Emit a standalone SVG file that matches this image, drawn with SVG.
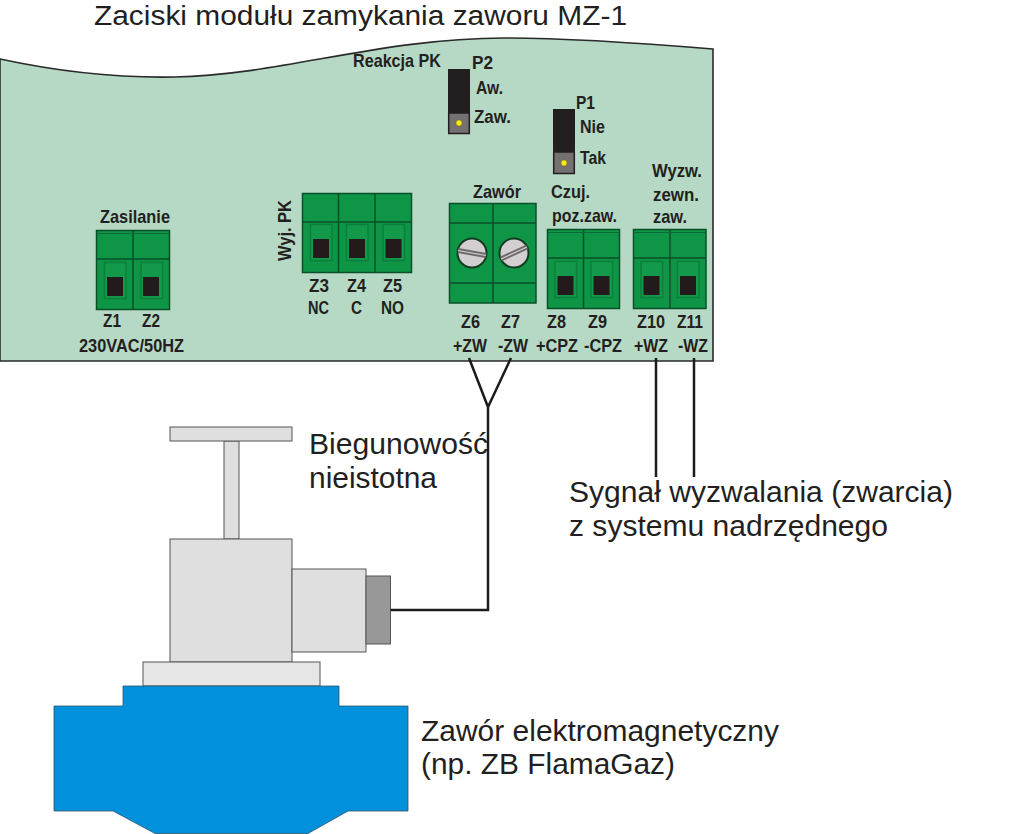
<svg xmlns="http://www.w3.org/2000/svg" width="1024" height="834" viewBox="0 0 1024 834">
<style>
text{font-family:"Liberation Sans",Arial,sans-serif;fill:#231f20}
.b{font-size:18.500px;font-weight:bold}
.l{font-size:29px}
.t{font-size:27px}
.blk{fill:#0e9546;stroke:#0b4f28;stroke-width:1.5}
.ln{fill:none;stroke:#0b4f28;stroke-width:1.5}
.thin{fill:none;stroke:#0b6a35;stroke-width:1}
.in{fill:#129a4a;stroke:#0d7f3d;stroke-width:1.5}
.hole{fill:#231a1c}
.w{fill:none;stroke:#1c1c1c;stroke-width:2.5}
.v{stroke:#555;stroke-width:1}
.g{fill:#dfdfdf}
.jb{fill:#231f20}
.jg{fill:#757072;stroke:#231f20;stroke-width:1.5}
.dot{fill:#f6e81c;stroke:#3a3a20;stroke-width:.5}
.scr{fill:#d3cfd0;stroke:#123c22;stroke-width:2}
.slot{stroke:#6e6a6c;stroke-width:5}
.slot2{stroke:#d3cfd0;stroke-width:1.2}
</style>
<rect width="1024" height="834" fill="#fff"/>
<g id="board"><path d="M0,59C60,72 120,78 175,77C280,75 380,38 505,38C570,38 640,43 713,49V361H0Z" fill="#b5d9c5" stroke="#2a2a2a" stroke-width="1.6"/></g>
<g id="title"><text class="t" x="94" y="24.500" textLength="533" lengthAdjust="spacingAndGlyphs">Zaciski modułu zamykania zaworu MZ-1</text></g>

<g id="jumper-p2">
<rect class="jb" x="448" y="69" width="22" height="65"/><rect class="jg" x="448.700" y="113" width="20.600" height="20.500"/><circle class="dot" cx="459" cy="123" r="3.200"/>
<text class="b" x="353" y="67" textLength="88" lengthAdjust="spacingAndGlyphs">Reakcja PK</text>
<text class="b" x="472" y="69" textLength="21" lengthAdjust="spacingAndGlyphs">P2</text>
<text class="b" x="476" y="94" textLength="27" lengthAdjust="spacingAndGlyphs">Aw.</text>
<text class="b" x="474" y="123" textLength="37" lengthAdjust="spacingAndGlyphs">Zaw.</text>
</g>
<g id="jumper-p1">
<rect class="jb" x="553" y="109" width="22" height="65"/><rect class="jg" x="553.700" y="152" width="20.600" height="21.500"/><circle class="dot" cx="564" cy="163" r="3.200"/>
<text class="b" x="576" y="109" textLength="19" lengthAdjust="spacingAndGlyphs">P1</text>
<text class="b" x="580" y="133" textLength="25" lengthAdjust="spacingAndGlyphs">Nie</text>
<text class="b" x="580" y="164" textLength="26" lengthAdjust="spacingAndGlyphs">Tak</text>
</g>

<g id="z1-z2">
<text class="b" x="100" y="223" textLength="70" lengthAdjust="spacingAndGlyphs">Zasilanie</text>
<rect class="blk" x="96.500" y="230.500" width="73" height="79"/>
<path class="ln" d="M96.500,259H169.500M133,230.500V309.500"/><path class="thin" d="M97,233.500H169"/>
<rect class="in" x="104.500" y="262.500" width="21.500" height="36"/><rect class="hole" x="107" y="277" width="16" height="19"/>
<rect class="in" x="141" y="262.500" width="21.500" height="36"/><rect class="hole" x="143" y="277" width="16" height="19"/>
<text class="b" x="103" y="327" textLength="18" lengthAdjust="spacingAndGlyphs">Z1</text>
<text class="b" x="142" y="327" textLength="18" lengthAdjust="spacingAndGlyphs">Z2</text>
<text class="b" x="79" y="352" textLength="105" lengthAdjust="spacingAndGlyphs">230VAC/50HZ</text>
</g>

<g id="z3-z5">
<text class="b" transform="translate(291,261) rotate(-90)" x="0" y="0" textLength="61" lengthAdjust="spacingAndGlyphs">Wyj. PK</text>
<rect class="blk" x="302.500" y="193.500" width="109" height="79"/>
<path class="ln" d="M302.500,222H411.500M338.500,193.500V272.500M375,193.500V272.500"/>
<rect class="in" x="310.500" y="224.500" width="21.500" height="36"/><rect class="hole" x="313" y="239" width="16" height="19"/>
<rect class="in" x="346.500" y="224.500" width="21.500" height="36"/><rect class="hole" x="349" y="239" width="16" height="19"/>
<rect class="in" x="383" y="224.500" width="21.500" height="36"/><rect class="hole" x="385.500" y="239" width="16" height="19"/>
<text class="b" x="309" y="292" textLength="20" lengthAdjust="spacingAndGlyphs">Z3</text>
<text class="b" x="347" y="292" textLength="19" lengthAdjust="spacingAndGlyphs">Z4</text>
<text class="b" x="383" y="292" textLength="19" lengthAdjust="spacingAndGlyphs">Z5</text>
<text class="b" x="308" y="314" textLength="21" lengthAdjust="spacingAndGlyphs">NC</text>
<text class="b" x="351" y="314" textLength="11" lengthAdjust="spacingAndGlyphs">C</text>
<text class="b" x="381" y="314" textLength="23" lengthAdjust="spacingAndGlyphs">NO</text>
</g>

<g id="z6-z7">
<text class="b" x="473" y="198" textLength="48" lengthAdjust="spacingAndGlyphs">Zawór</text>
<rect class="blk" x="449.500" y="203.500" width="86.500" height="99.500"/>
<path class="ln" d="M449.500,223H536M449.500,283H536M493,203.500V303"/>
<circle class="scr" cx="472" cy="253" r="14.500"/>
<path class="slot" d="M458,250.500L486,255.500"/><path class="slot2" d="M458,250.500L486,255.500"/>
<circle class="scr" cx="514" cy="253" r="14.500"/>
<path class="slot" d="M501,259L527,247"/><path class="slot2" d="M501,259L527,247"/>
<text class="b" x="461" y="328" textLength="19" lengthAdjust="spacingAndGlyphs">Z6</text>
<text class="b" x="501" y="328" textLength="19" lengthAdjust="spacingAndGlyphs">Z7</text>
<text class="b" x="453" y="352" textLength="34" lengthAdjust="spacingAndGlyphs">+ZW</text>
<text class="b" x="498" y="352" textLength="30" lengthAdjust="spacingAndGlyphs">-ZW</text>
</g>

<g id="z8-z9">
<text class="b" x="551" y="198" textLength="39" lengthAdjust="spacingAndGlyphs">Czuj.</text>
<text class="b" x="552" y="222" textLength="65" lengthAdjust="spacingAndGlyphs">poz.zaw.</text>
<rect class="blk" x="547.500" y="229.500" width="72" height="79"/>
<path class="ln" d="M547.500,258H619.500M583.500,229.500V308.500"/><path class="thin" d="M548,232.500H619"/>
<rect class="in" x="555" y="261.500" width="21.500" height="36"/><rect class="hole" x="557.500" y="276" width="16" height="19"/>
<rect class="in" x="591" y="261.500" width="21.500" height="36"/><rect class="hole" x="593.500" y="276" width="16" height="19"/>
<text class="b" x="547" y="328" textLength="19" lengthAdjust="spacingAndGlyphs">Z8</text>
<text class="b" x="588" y="328" textLength="19" lengthAdjust="spacingAndGlyphs">Z9</text>
<text class="b" x="536" y="352" textLength="42" lengthAdjust="spacingAndGlyphs">+CPZ</text>
<text class="b" x="584" y="352" textLength="38" lengthAdjust="spacingAndGlyphs">-CPZ</text>
</g>

<g id="z10-z11">
<text class="b" x="652" y="177" textLength="50" lengthAdjust="spacingAndGlyphs">Wyzw.</text>
<text class="b" x="653" y="201" textLength="46" lengthAdjust="spacingAndGlyphs">zewn.</text>
<text class="b" x="653" y="223" textLength="34" lengthAdjust="spacingAndGlyphs">zaw.</text>
<rect class="blk" x="633.500" y="229.500" width="72.500" height="79"/>
<path class="ln" d="M633.500,258H706M670,229.500V308.500"/><path class="thin" d="M634,232.500H705.500"/>
<rect class="in" x="641" y="261.500" width="21.500" height="36"/><rect class="hole" x="643.500" y="276" width="16" height="19"/>
<rect class="in" x="677.500" y="261.500" width="21.500" height="36"/><rect class="hole" x="680" y="276" width="16" height="19"/>
<text class="b" x="637" y="328" textLength="28" lengthAdjust="spacingAndGlyphs">Z10</text>
<text class="b" x="677" y="328" textLength="26" lengthAdjust="spacingAndGlyphs">Z11</text>
<text class="b" x="634" y="352" textLength="34" lengthAdjust="spacingAndGlyphs">+WZ</text>
<text class="b" x="678" y="352" textLength="30" lengthAdjust="spacingAndGlyphs">-WZ</text>
</g>

<g id="valve">
<rect class="g v" x="224" y="441" width="15" height="98"/>
<rect class="g v" x="170" y="427" width="122" height="14"/>
<rect class="g v" x="170" y="539" width="122" height="123"/>
<rect class="g v" x="292" y="569" width="74" height="83"/>
<rect x="366" y="576" width="24.500" height="68" fill="#989898" stroke="#555"/>
<rect x="143" y="662" width="177" height="24" fill="#e6e6e6" stroke="#555"/>
<path d="M123,686H339V706H408V811H348L308,833.500H155L113,811H54V706H123Z" fill="#0090dc" stroke="#33566b" stroke-width=".8"/>
</g>

<g id="connectors">
<path class="w" d="M469,358L488,407L511,358M488,407V610H390.500"/>
<path class="w" d="M656,358V477M694,358V477"/>
</g>

<g id="labels">
<text class="l" x="309" y="454" textLength="179" lengthAdjust="spacingAndGlyphs">Biegunowość</text>
<text class="l" x="309" y="488" textLength="128" lengthAdjust="spacingAndGlyphs">nieistotna</text>
<text class="l" x="569" y="502" textLength="384" lengthAdjust="spacingAndGlyphs">Sygnał wyzwalania (zwarcia)</text>
<text class="l" x="569" y="536" textLength="319" lengthAdjust="spacingAndGlyphs">z systemu nadrzędnego</text>
<text class="l" x="421" y="741" textLength="358" lengthAdjust="spacingAndGlyphs">Zawór elektromagnetyczny</text>
<text class="l" x="421" y="774" textLength="254" lengthAdjust="spacingAndGlyphs">(np. ZB FlamaGaz)</text>
</g>
</svg>
